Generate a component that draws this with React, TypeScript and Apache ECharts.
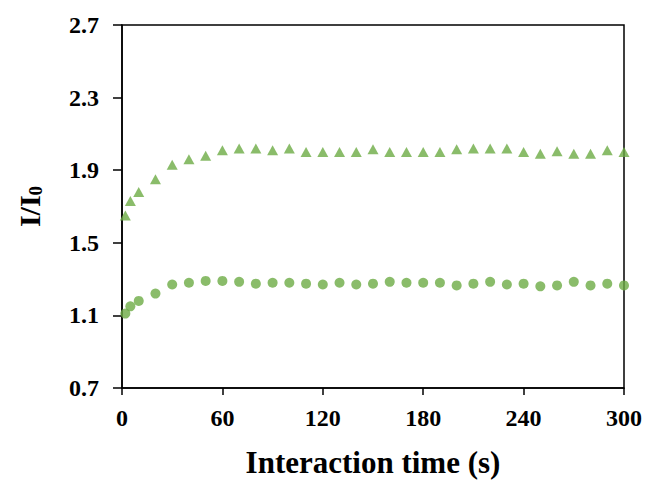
import React, { useEffect, useRef } from "react";
import * as echarts from "echarts";

// Interaction time (s) at which each ratio was measured
const times = [2, 5, 10, 20, 30, 40, 50, 60, 70, 80, 90, 100, 110, 120, 130, 140, 150,
  160, 170, 180, 190, 200, 210, 220, 230, 240, 250, 260, 270, 280, 290, 300];

// I/I0 for the upper (triangle) series
const triangleValues = [1.65, 1.73, 1.78, 1.85, 1.93, 1.96, 1.98, 2.01, 2.02, 2.02, 2.01, 2.02,
  2.0, 2.0, 2.0, 2.0, 2.015, 2.0, 2.0, 2.0, 2.0, 2.015, 2.02, 2.02, 2.02, 2.0, 1.99, 2.005,
  1.99, 1.99, 2.01, 2.0];

// I/I0 for the lower (circle) series
const circleValues = [1.11, 1.15, 1.18, 1.22, 1.27, 1.28, 1.29, 1.29, 1.285, 1.275, 1.28, 1.28,
  1.275, 1.27, 1.28, 1.27, 1.275, 1.285, 1.28, 1.28, 1.28, 1.265, 1.275, 1.285, 1.27, 1.275,
  1.26, 1.265, 1.285, 1.265, 1.275, 1.265];

const xTicks = { min: 0, max: 300, interval: 60 };
const yTicks = { min: 0.7, max: 2.7, interval: 0.4 };

const GREEN = "#6DAB45";
const FONT = "'Liberation Serif', 'Times New Roman', serif";

export default function App() {
  const ref = useRef<HTMLDivElement>(null);

  useEffect(() => {
    document.body.style.margin = "0";
    if (!ref.current) return;
    const chart = echarts.init(ref.current, null, { renderer: "svg" });
    const pair = (vals: number[]) => times.map((t, i) => [t, vals[i]]);

    chart.setOption({
      animation: false,
      backgroundColor: "#fff",
      grid: {
        left: 122,
        right: 25,
        top: 25,
        bottom: 98,
        show: true,
        borderColor: "#000",
        borderWidth: 1.5,
      },
      xAxis: {
        type: "value",
        min: xTicks.min,
        max: xTicks.max,
        interval: xTicks.interval,
        name: "Interaction time (s)",
        nameLocation: "middle",
        nameGap: 59,
        nameTextStyle: { fontFamily: FONT, fontWeight: "bold", fontSize: 31, color: "#000" },
        axisLine: { lineStyle: { color: "#000", width: 1.5 } },
        axisTick: { show: true, inside: false, length: 7, lineStyle: { color: "#000", width: 1.5 } },
        axisLabel: { fontFamily: FONT, fontWeight: "bold", fontSize: 24, color: "#000", margin: 18 },
        splitLine: { show: false },
      },
      yAxis: {
        type: "value",
        min: yTicks.min,
        max: yTicks.max,
        interval: yTicks.interval,
        name: "{a|I/I}{b|0}",
        nameLocation: "middle",
        nameGap: 77,
        nameRotate: 90,
        nameTextStyle: {
          fontFamily: FONT,
          fontWeight: "bold",
          color: "#000",
          rich: {
            a: { fontFamily: FONT, fontWeight: "bold", fontSize: 30, color: "#000" },
            b: { fontFamily: FONT, fontWeight: "bold", fontSize: 19, color: "#000", padding: [12, 0, 0, 0] },
          },
        },
        axisLine: { show: true, lineStyle: { color: "#000", width: 1.5 } },
        axisTick: { show: true, inside: false, length: 9, lineStyle: { color: "#000", width: 1.5 } },
        axisLabel: {
          fontFamily: FONT,
          fontWeight: "bold",
          fontSize: 24,
          color: "#000",
          margin: 23,
          formatter: (v: number) => v.toFixed(1),
        },
        splitLine: { show: false },
      },
      series: [
        {
          type: "scatter",
          data: pair(triangleValues),
          symbol: "triangle",
          symbolSize: [11, 10],
          itemStyle: { color: GREEN },
        },
        {
          type: "scatter",
          data: pair(circleValues),
          symbol: "circle",
          symbolSize: 10,
          itemStyle: { color: GREEN },
        },
      ],
    });

    return () => chart.dispose();
  }, []);

  return <div ref={ref} style={{ width: 649, height: 486 }} />;
}
